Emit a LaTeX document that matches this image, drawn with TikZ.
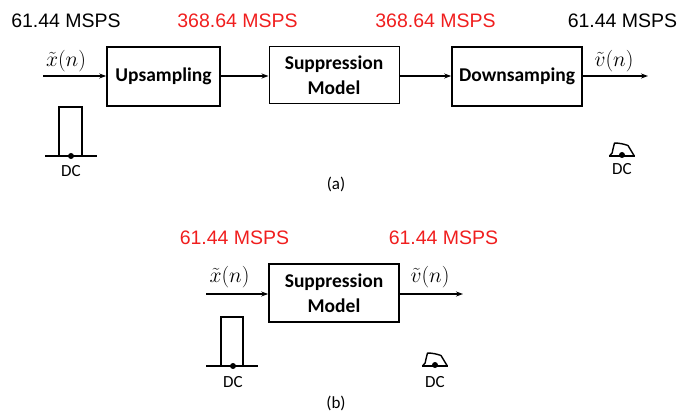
\documentclass[tikz,border=0pt]{standalone}
\usepackage{graphicx}
\usepackage{fontspec}
\setmainfont{Carlito}
\newfontfamily\arialf{Liberation Sans}
\usetikzlibrary{arrows.meta}
\definecolor{rateRed}{RGB}{240,30,30}
\newcommand{\sigtxt}[1]{\scalebox{1.25}{$#1$}}
\begin{document}
\begin{tikzpicture}[x=1pt,y=-1pt,
  blk/.style={draw,line width=1.6pt,minimum height=0pt,inner sep=0pt,font=\fontsize{19.5}{21}\selectfont\bfseries,align=center},
  rate/.style={font=\arialf\fontsize{19.5}{21}\selectfont,inner sep=0pt},
  sig/.style={font=\fontsize{17.28}{20}\selectfont,inner sep=0pt},
  conn/.style={line width=1.3pt,-{Stealth[length=7pt,width=5pt]}},
  pulse/.style={line width=1.8pt},
  lbl/.style={font=\fontsize{17}{19}\selectfont,inner sep=0pt}]
\useasboundingbox (0,0) rectangle (694,414);
% ---------- (a)
\node[rate] (r1) at (66,21) {61.44 MSPS};
\node[rate,text=rateRed] (r2) at (237.5,21) {368.64 MSPS};
\node[rate,text=rateRed] (r3) at (435.5,21) {368.64 MSPS};
\node[rate] (r4) at (622.5,21) {61.44 MSPS};

\node[blk,minimum width=113pt,minimum height=59pt] (up) at (163.5,76.5) {Upsampling};
\node[blk,line width=1pt,minimum width=130pt,minimum height=57pt] (sm) at (334,75.5) {Suppression\\[4pt]Model};
\node[blk,minimum width=130pt,minimum height=59pt] (down) at (517,76.5) {Downsamping};
\coordinate (ina) at (43,76);
\coordinate (outa) at (648,76);
\draw[conn] (ina) -- (up.west|-ina);
\draw[conn] (up.east|-ina) -- (sm.west|-ina);
\draw[conn] (sm.east|-ina) -- (down.west|-ina);
\draw[conn] (down.east|-ina) -- (outa);
\node[sig] (xa) at (66,61) {\sigtxt{\tilde{x}(n)}};
\node[sig] (va) at (614,61) {\sigtxt{\tilde{v}(n)}};

\coordinate (pa) at (71,156);
\draw[pulse] (45,156) -- (97,156);
\draw[pulse] (59,156) -- (59,107) -- (82,107) -- (82,156);
\fill (pa) circle (3pt);
\node[lbl] (dca) at (71,171) {DC};

\coordinate (qa) at (622,155);
\draw[pulse,line width=1.5pt] (609,156) -- (635,156);
\draw[line width=1.4pt,line join=round] (609.5,156) .. controls (612,154) and (613,152) .. (613,149) -- (614.5,143) .. controls (619,143) and (624,144) .. (628,145.5) -- (634,155.5);
\fill (qa) circle (3pt);
\node[lbl] (dca2) at (622,169) {DC};

\node[lbl] (capa) at (336,184) {(a)};

% ---------- (b)
\node[rate,text=rateRed] (r5) at (234.5,238) {61.44 MSPS};
\node[rate,text=rateRed] (r6) at (443.5,238) {61.44 MSPS};
\node[blk,minimum width=130pt,minimum height=58pt] (smb) at (334,293) {Suppression\\[4pt]Model};
\coordinate (inb) at (206,294);
\coordinate (outb) at (463,294);
\draw[conn] (inb) -- (smb.west|-inb);
\draw[conn] (smb.east|-inb) -- (outb);
\node[sig] (xb) at (229.5,277) {\sigtxt{\tilde{x}(n)}};
\node[sig] (vb) at (430,277) {\sigtxt{\tilde{v}(n)}};

\coordinate (pb) at (233,366);
\draw[pulse] (206,366) -- (258,366);
\draw[pulse] (221,366) -- (221,317) -- (243,317) -- (243,366);
\fill (pb) circle (3pt);
\node[lbl] (dcb) at (233,382) {DC};

\coordinate (qb) at (435,365);
\draw[pulse,line width=1.5pt] (422,366) -- (448,366);
\draw[line width=1.4pt,line join=round] (422.5,366) .. controls (425,364) and (426,362) .. (426,359) -- (427.5,353) .. controls (432,353) and (437,354) .. (441,355.5) -- (447,365.5);
\fill (qb) circle (3pt);
\node[lbl] (dcb2) at (435,382) {DC};

\node[lbl] (capb) at (336,403) {(b)};
\end{tikzpicture}
\end{document}
